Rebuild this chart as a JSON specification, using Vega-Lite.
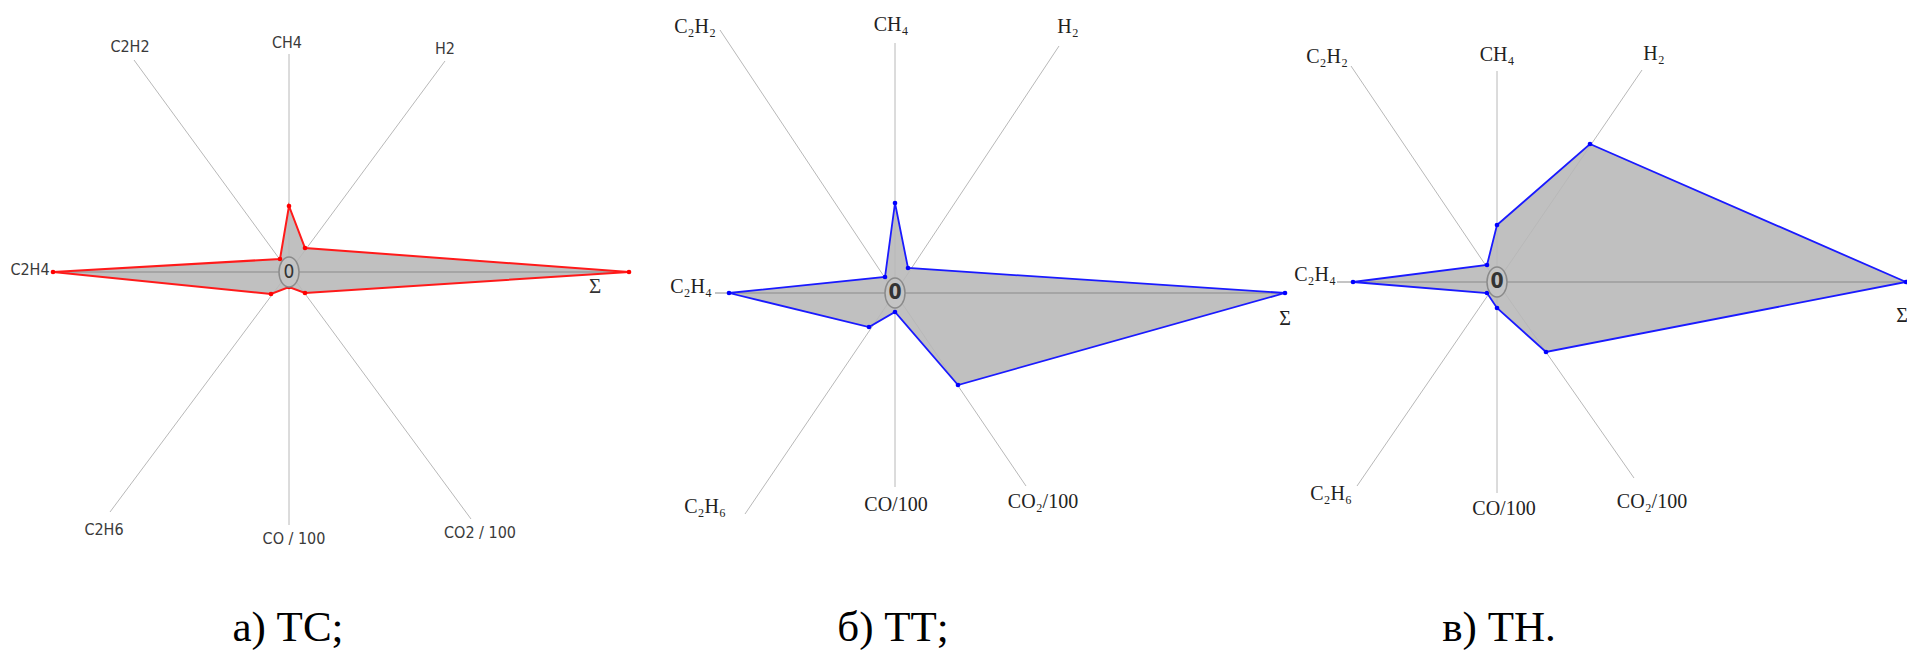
{
  "$schema": "https://vega.github.io/schema/vega-lite/v6.json",
  "padding": 0,
  "spacing": 0,
  "bounds": "flush",
  "background": "white",
  "config": {"view": {"stroke": null}},
  "datasets": {
    "poly_a": [
      {"o": 1, "k": "CH4", "x": 0, "y": 66},
      {"o": 2, "k": "H2", "x": 16, "y": 24},
      {"o": 3, "k": "Σ", "x": 340, "y": 0},
      {"o": 4, "k": "CO2/100", "x": 16, "y": -21},
      {"o": 5, "k": "CO/100", "x": 0, "y": -15},
      {"o": 6, "k": "C2H6", "x": -18, "y": -22},
      {"o": 7, "k": "C2H4", "x": -236, "y": 0},
      {"o": 8, "k": "C2H2", "x": -9, "y": 13}
    ],
    "axes_a": [
      {"k": "CH4", "x": 0, "y": 218},
      {"k": "H2", "x": 156, "y": 211},
      {"k": "Σ", "x": 335, "y": 0},
      {"k": "CO2/100", "x": 182, "y": -247},
      {"k": "CO/100", "x": 0, "y": -253},
      {"k": "C2H6", "x": -179, "y": -240},
      {"k": "C2H4", "x": -236, "y": 0},
      {"k": "C2H2", "x": -155, "y": 212}
    ],
    "labels_a": [
      {"t": "CH4", "x": -2, "y": 229},
      {"t": "H2", "x": 156, "y": 223},
      {"t": "C2H2", "x": -159, "y": 225},
      {"t": "C2H4", "x": -259, "y": 2},
      {"t": "C2H6", "x": -185, "y": -258},
      {"t": "CO / 100", "x": 5, "y": -267},
      {"t": "CO2 / 100", "x": 191, "y": -261}
    ],
    "sigma_a": [{"t": "Σ", "x": 306, "y": -15}],
    "cap_a": [{"t": "а) ТС;", "x": -1, "y": -369}],
    "poly_b": [
      {"o": 1, "k": "CH4", "x": 0, "y": 90},
      {"o": 2, "k": "H2", "x": 13, "y": 25},
      {"o": 3, "k": "Σ", "x": 390, "y": 0},
      {"o": 4, "k": "CO2/100", "x": 63, "y": -92},
      {"o": 5, "k": "CO/100", "x": 0, "y": -19},
      {"o": 6, "k": "C2H6", "x": -26, "y": -34},
      {"o": 7, "k": "C2H4", "x": -166, "y": 0},
      {"o": 8, "k": "C2H2", "x": -10, "y": 16}
    ],
    "axes_b": [
      {"k": "CH4", "x": 0, "y": 250},
      {"k": "H2", "x": 164, "y": 247},
      {"k": "Σ", "x": 390, "y": 0},
      {"k": "CO2/100", "x": 131, "y": -193},
      {"k": "CO/100", "x": 0, "y": -194},
      {"k": "C2H6", "x": -150, "y": -221},
      {"k": "C2H4", "x": -180, "y": 0},
      {"k": "C2H2", "x": -175, "y": 263}
    ],
    "labels_b": [
      {"t": "CH₄", "x": -4, "y": 268},
      {"t": "H₂", "x": 173, "y": 266},
      {"t": "C₂H₂", "x": -200, "y": 266},
      {"t": "C₂H₄", "x": -204, "y": 6},
      {"t": "Σ", "x": 390, "y": -26},
      {"t": "C₂H₆", "x": -190, "y": -214},
      {"t": "CO/100", "x": 1, "y": -212},
      {"t": "CO₂/100", "x": 148, "y": -209}
    ],
    "cap_b": [{"t": "б) ТТ;", "x": -2, "y": -348}],
    "poly_c": [
      {"o": 1, "k": "CH4", "x": 0, "y": 57},
      {"o": 2, "k": "H2", "x": 93, "y": 138},
      {"o": 3, "k": "Σ", "x": 409, "y": 0},
      {"o": 4, "k": "CO2/100", "x": 49, "y": -70},
      {"o": 5, "k": "CO/100", "x": 0, "y": -26},
      {"o": 6, "k": "C2H6", "x": -10, "y": -11},
      {"o": 7, "k": "C2H4", "x": -144, "y": 0},
      {"o": 8, "k": "C2H2", "x": -10, "y": 17}
    ],
    "axes_c": [
      {"k": "CH4", "x": 0, "y": 211},
      {"k": "H2", "x": 145, "y": 212},
      {"k": "Σ", "x": 409, "y": 0},
      {"k": "CO2/100", "x": 137, "y": -196},
      {"k": "CO/100", "x": 0, "y": -211},
      {"k": "C2H6", "x": -140, "y": -204},
      {"k": "C2H4", "x": -160, "y": 0},
      {"k": "C2H2", "x": -146, "y": 216}
    ],
    "labels_c": [
      {"t": "CH₄", "x": 0, "y": 227},
      {"t": "H₂", "x": 157, "y": 228},
      {"t": "C₂H₂", "x": -170, "y": 225},
      {"t": "C₂H₄", "x": -182, "y": 7},
      {"t": "Σ", "x": 405, "y": -34},
      {"t": "C₂H₆", "x": -166, "y": -212},
      {"t": "CO/100", "x": 7, "y": -227},
      {"t": "CO₂/100", "x": 155, "y": -220}
    ],
    "cap_c": [{"t": "в) ТН.", "x": 2, "y": -359}],
    "center": [{"x": 0, "y": 0, "t": "0"}]
  },
  "hconcat": [
    {
      "width": 592,
      "height": 652,
      "encoding": {
        "x": {"field": "x", "type": "quantitative", "scale": {"domain": [-289, 303], "nice": false, "zero": false}, "axis": null},
        "y": {"field": "y", "type": "quantitative", "scale": {"domain": [-380, 272], "nice": false, "zero": false}, "axis": null}
      },
      "layer": [
        {"data": {"name": "poly_a"}, "mark": {"type": "line", "interpolate": "linear-closed", "fill": "#c0c0c0", "strokeWidth": 0}, "encoding": {"order": {"field": "o"}}},
        {"data": {"name": "axes_a"}, "mark": {"type": "rule", "strokeWidth": 1}, "encoding": {"x2": {"datum": 0}, "y2": {"datum": 0}, "stroke": {"condition": {"test": "datum.y == 0", "value": "#8a8a8a"}, "value": "#b8b8b8"}}},
        {"data": {"name": "poly_a"}, "mark": {"type": "line", "interpolate": "linear-closed", "stroke": "#ff1a1a", "strokeWidth": 2}, "encoding": {"order": {"field": "o"}}},
        {"data": {"name": "poly_a"}, "mark": {"type": "point", "filled": true, "size": 22, "color": "#ff0000", "opacity": 1}},
        {"data": {"name": "center"}, "mark": {"type": "point", "shape": "M-0.667,0A0.667,1,0,1,0,0.667,0A0.667,1,0,1,0,-0.667,0Z", "size": 900, "filled": true, "fill": "#c4c4c4", "stroke": "#8a8a8a", "strokeWidth": 1.5, "opacity": 1}},
        {"data": {"name": "center"}, "mark": {"type": "text", "font": "Liberation Sans Narrow, DejaVu Sans Condensed, sans-serif", "fontSize": 19, "color": "#333", "baseline": "middle"}, "encoding": {"text": {"field": "t"}}},
        {"data": {"name": "labels_a"}, "mark": {"type": "text", "font": "Liberation Sans Narrow, DejaVu Sans Condensed, sans-serif", "fontSize": 16, "color": "#3a3a3a", "baseline": "middle"}, "encoding": {"text": {"field": "t"}}},
        {"data": {"name": "sigma_a"}, "mark": {"type": "text", "font": "Liberation Serif, serif", "fontSize": 21, "color": "#333", "baseline": "middle"}, "encoding": {"text": {"field": "t"}}},
        {"data": {"name": "cap_a"}, "mark": {"type": "text", "font": "Liberation Serif, serif", "fontSize": 43, "color": "#000", "baseline": "alphabetic"}, "encoding": {"text": {"field": "t"}}}
      ]
    },
    {
      "width": 604,
      "height": 652,
      "encoding": {
        "x": {"field": "x", "type": "quantitative", "scale": {"domain": [-303, 301], "nice": false, "zero": false}, "axis": null},
        "y": {"field": "y", "type": "quantitative", "scale": {"domain": [-359, 293], "nice": false, "zero": false}, "axis": null}
      },
      "layer": [
        {"data": {"name": "poly_b"}, "mark": {"type": "line", "interpolate": "linear-closed", "fill": "#c0c0c0", "strokeWidth": 0}, "encoding": {"order": {"field": "o"}}},
        {"data": {"name": "axes_b"}, "mark": {"type": "rule", "strokeWidth": 1}, "encoding": {"x2": {"datum": 0}, "y2": {"datum": 0}, "stroke": {"condition": {"test": "datum.y == 0", "value": "#8a8a8a"}, "value": "#b8b8b8"}}},
        {"data": {"name": "poly_b"}, "mark": {"type": "line", "interpolate": "linear-closed", "stroke": "#1a1aff", "strokeWidth": 1.8}, "encoding": {"order": {"field": "o"}}},
        {"data": {"name": "poly_b"}, "mark": {"type": "point", "filled": true, "size": 22, "color": "#0000ff", "opacity": 1}},
        {"data": {"name": "center"}, "mark": {"type": "point", "shape": "M-0.667,0A0.667,1,0,1,0,0.667,0A0.667,1,0,1,0,-0.667,0Z", "size": 900, "filled": true, "fill": "#c4c4c4", "stroke": "#8a8a8a", "strokeWidth": 1.5, "opacity": 1}},
        {"data": {"name": "center"}, "mark": {"type": "text", "font": "Liberation Sans Narrow, DejaVu Sans Condensed, sans-serif", "fontSize": 21, "fontWeight": "bold", "color": "#333", "baseline": "middle"}, "encoding": {"text": {"field": "t"}}},
        {"data": {"name": "labels_b"}, "mark": {"type": "text", "font": "Liberation Serif, serif", "fontSize": 20, "color": "#222", "baseline": "middle"}, "encoding": {"text": {"field": "t"}}},
        {"data": {"name": "cap_b"}, "mark": {"type": "text", "font": "Liberation Serif, serif", "fontSize": 43, "color": "#000", "baseline": "alphabetic"}, "encoding": {"text": {"field": "t"}}}
      ]
    },
    {
      "width": 711,
      "height": 652,
      "encoding": {
        "x": {"field": "x", "type": "quantitative", "scale": {"domain": [-301, 410], "nice": false, "zero": false}, "axis": null},
        "y": {"field": "y", "type": "quantitative", "scale": {"domain": [-370, 282], "nice": false, "zero": false}, "axis": null}
      },
      "layer": [
        {"data": {"name": "poly_c"}, "mark": {"type": "line", "interpolate": "linear-closed", "fill": "#c0c0c0", "strokeWidth": 0}, "encoding": {"order": {"field": "o"}}},
        {"data": {"name": "axes_c"}, "mark": {"type": "rule", "strokeWidth": 1}, "encoding": {"x2": {"datum": 0}, "y2": {"datum": 0}, "stroke": {"condition": {"test": "datum.y == 0", "value": "#8a8a8a"}, "value": "#b8b8b8"}}},
        {"data": {"name": "poly_c"}, "mark": {"type": "line", "interpolate": "linear-closed", "stroke": "#1a1aff", "strokeWidth": 1.8}, "encoding": {"order": {"field": "o"}}},
        {"data": {"name": "poly_c"}, "mark": {"type": "point", "filled": true, "size": 22, "color": "#0000ff", "opacity": 1}},
        {"data": {"name": "center"}, "mark": {"type": "point", "shape": "M-0.667,0A0.667,1,0,1,0,0.667,0A0.667,1,0,1,0,-0.667,0Z", "size": 900, "filled": true, "fill": "#c4c4c4", "stroke": "#8a8a8a", "strokeWidth": 1.5, "opacity": 1}},
        {"data": {"name": "center"}, "mark": {"type": "text", "font": "Liberation Sans Narrow, DejaVu Sans Condensed, sans-serif", "fontSize": 21, "fontWeight": "bold", "color": "#333", "baseline": "middle"}, "encoding": {"text": {"field": "t"}}},
        {"data": {"name": "labels_c"}, "mark": {"type": "text", "font": "Liberation Serif, serif", "fontSize": 20, "color": "#222", "baseline": "middle"}, "encoding": {"text": {"field": "t"}}},
        {"data": {"name": "cap_c"}, "mark": {"type": "text", "font": "Liberation Serif, serif", "fontSize": 43, "color": "#000", "baseline": "alphabetic"}, "encoding": {"text": {"field": "t"}}}
      ]
    }
  ]
}
